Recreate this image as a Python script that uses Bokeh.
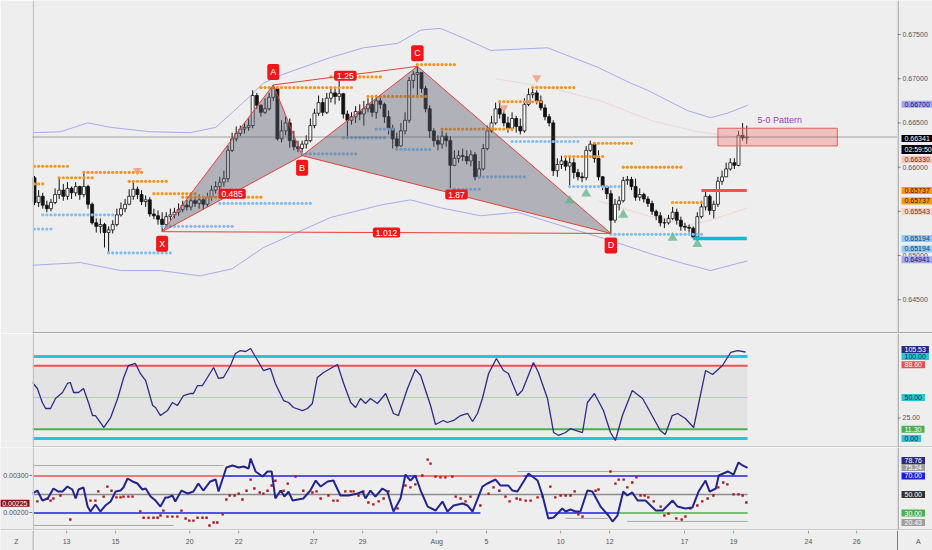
from bokeh.plotting import figure
from bokeh.models import Range1d, Label, Span
from bokeh.layouts import column, row
from bokeh.embed import file_html
from bokeh.resources import INLINE

# ---------------- data: 4h candles (index = bar number) ----------------
first_open = 0.6588
close = [
    0.6560, 0.6567, 0.6557, 0.6553, 0.6560, 0.6569, 0.6574, 0.6567, 0.6576, 0.6571,
    0.6578, 0.6569, 0.6578, 0.6558, 0.6537, 0.6533, 0.6535, 0.6526, 0.6529, 0.6535,
    0.6546, 0.6553, 0.6558, 0.6567, 0.6575, 0.6569, 0.6561, 0.6563, 0.6547, 0.6545,
    0.6541, 0.6535, 0.6544, 0.6546, 0.6549, 0.6552, 0.6557, 0.6555, 0.6562, 0.6559,
    0.6563, 0.6558, 0.6566, 0.6574, 0.6578, 0.6583, 0.6587, 0.6619, 0.6632, 0.6638,
    0.6643, 0.6645, 0.6647, 0.6681, 0.6670, 0.6662, 0.6666, 0.6679, 0.6689, 0.6632,
    0.6641, 0.6650, 0.6630, 0.6623, 0.6621, 0.6626, 0.6630, 0.6647, 0.6661, 0.6673,
    0.6662, 0.6678, 0.6684, 0.6680, 0.6683, 0.6660, 0.6653, 0.6657, 0.6663, 0.6660,
    0.6666, 0.6671, 0.6662, 0.6675, 0.6671, 0.6657, 0.6644, 0.6632, 0.6624, 0.6641,
    0.6653, 0.6698, 0.6705, 0.6707, 0.6689, 0.6666, 0.6641, 0.6630, 0.6626, 0.6635,
    0.6630, 0.6602, 0.6610, 0.6613, 0.6612, 0.6607, 0.6614, 0.6589, 0.6598, 0.6621,
    0.6641, 0.6650, 0.6666, 0.6660, 0.6650, 0.6644, 0.6655, 0.6646, 0.6641, 0.6671,
    0.6682, 0.6684, 0.6675, 0.6667, 0.6657, 0.6650, 0.6596, 0.6603, 0.6607, 0.6601,
    0.6605, 0.6594, 0.6589, 0.6588, 0.6619, 0.6626, 0.6610, 0.6589, 0.6578, 0.6570,
    0.6540, 0.6558, 0.6562, 0.6585, 0.6586, 0.6578, 0.6566, 0.6569, 0.6564, 0.6559,
    0.6550, 0.6545, 0.6537, 0.6537, 0.6542, 0.6549, 0.6540, 0.6533, 0.6532, 0.6531,
    0.6521, 0.6544, 0.6555, 0.6567, 0.6551, 0.6558, 0.6584, 0.6589, 0.6598, 0.6605,
    0.6602, 0.6636, 0.6633, 0.66341,
]
high = [
    0.6590, 0.6574, 0.6571, 0.6562, 0.6564, 0.6576, 0.6587, 0.6581, 0.6583, 0.6578,
    0.6583, 0.6579, 0.6594, 0.6580, 0.6560, 0.6542, 0.6542, 0.6537, 0.6533, 0.6540,
    0.6553, 0.6560, 0.6564, 0.6575, 0.6585, 0.6578, 0.6574, 0.6568, 0.6566, 0.6553,
    0.6551, 0.6549, 0.6549, 0.6553, 0.6554, 0.6559, 0.6562, 0.6563, 0.6568, 0.6567,
    0.6569, 0.6567, 0.6571, 0.6579, 0.6584, 0.6589, 0.6596, 0.6624, 0.6639, 0.6646,
    0.6647, 0.6650, 0.6655, 0.6687, 0.6684, 0.6671, 0.6678, 0.6684, 0.6693, 0.6691,
    0.6653, 0.6657, 0.6655, 0.6641, 0.6630, 0.6630, 0.6636, 0.6655, 0.6666, 0.6681,
    0.6678, 0.6684, 0.6691, 0.6689, 0.6698, 0.6684, 0.6664, 0.6662, 0.6669, 0.6671,
    0.6675, 0.6678, 0.6680, 0.6682, 0.6680, 0.6673, 0.6664, 0.6648, 0.6639, 0.6650,
    0.6662, 0.6702, 0.6709, 0.6714, 0.6707, 0.6692, 0.6670, 0.6644, 0.6636, 0.6641,
    0.6639, 0.6635, 0.6619, 0.6619, 0.6621, 0.6619, 0.6619, 0.6617, 0.6607, 0.6626,
    0.6647, 0.6658, 0.6673, 0.6675, 0.6664, 0.6657, 0.6662, 0.6658, 0.6655, 0.6678,
    0.6689, 0.6689, 0.6687, 0.6681, 0.6671, 0.6660, 0.6653, 0.6610, 0.6613, 0.6612,
    0.6612, 0.6610, 0.6598, 0.6594, 0.6624, 0.6630, 0.6628, 0.6619, 0.6590, 0.6579,
    0.6574, 0.6564, 0.6567, 0.6589, 0.6590, 0.6589, 0.6587, 0.6576, 0.6571, 0.6567,
    0.6562, 0.6552, 0.6549, 0.6542, 0.6546, 0.6555, 0.6553, 0.6544, 0.6537, 0.6535,
    0.6533, 0.6549, 0.6562, 0.6574, 0.6569, 0.6562, 0.6589, 0.6596, 0.6605, 0.6610,
    0.6610, 0.6641, 0.6650, 0.6647,
]
low = [
    0.6557, 0.6555, 0.6553, 0.6549, 0.6550, 0.6558, 0.6564, 0.6562, 0.6563, 0.6564,
    0.6567, 0.6563, 0.6566, 0.6553, 0.6535, 0.6526, 0.6525, 0.6509, 0.6504, 0.6525,
    0.6533, 0.6544, 0.6549, 0.6557, 0.6563, 0.6564, 0.6557, 0.6555, 0.6544, 0.6541,
    0.6535, 0.6527, 0.6533, 0.6540, 0.6542, 0.6545, 0.6549, 0.6551, 0.6551, 0.6555,
    0.6553, 0.6552, 0.6555, 0.6562, 0.6570, 0.6571, 0.6578, 0.6583, 0.6617, 0.6629,
    0.6635, 0.6638, 0.6641, 0.6644, 0.6666, 0.6657, 0.6660, 0.6664, 0.6675, 0.6630,
    0.6628, 0.6636, 0.6622, 0.6619, 0.6617, 0.6613, 0.6621, 0.6628, 0.6644, 0.6658,
    0.6658, 0.6660, 0.6673, 0.6671, 0.6675, 0.6655, 0.6635, 0.6648, 0.6650, 0.6653,
    0.6647, 0.6662, 0.6657, 0.6655, 0.6666, 0.6650, 0.6637, 0.6621, 0.6619, 0.6623,
    0.6637, 0.6650, 0.6689, 0.6680, 0.6684, 0.6662, 0.6633, 0.6623, 0.6619, 0.6621,
    0.6623, 0.6576, 0.6601, 0.6605, 0.6607, 0.6603, 0.6601, 0.6585, 0.6587, 0.6596,
    0.6619, 0.6639, 0.6648, 0.6655, 0.6646, 0.6639, 0.6641, 0.6639, 0.6637, 0.6639,
    0.6669, 0.6678, 0.6671, 0.6664, 0.6653, 0.6646, 0.6590, 0.6589, 0.6598, 0.6596,
    0.6579, 0.6587, 0.6585, 0.6583, 0.6585, 0.6617, 0.6605, 0.6585, 0.6574, 0.6564,
    0.6525, 0.6537, 0.6551, 0.6560, 0.6580, 0.6574, 0.6562, 0.6562, 0.6560, 0.6555,
    0.6546, 0.6540, 0.6533, 0.6531, 0.6535, 0.6540, 0.6535, 0.6528, 0.6528, 0.6526,
    0.6519, 0.6517, 0.6542, 0.6551, 0.6546, 0.6542, 0.6555, 0.6580, 0.6589, 0.6596,
    0.6598, 0.6601, 0.6630, 0.6626,
]

# x axis day labels (bar positions where the day label falls)
day_ticks = [7.8, 19.7, 37.7, 49.6, 67.8, 79.7, 97.7, 109.8, 127.8, 139.7, 157.9, 169.8, 188.0, 199.7]
day_labels = ["13", "15", "20", "22", "27", "29", "Aug", "5", "10", "12", "17", "19", "24", "26"]
edge_labels = [(-4.37, "Z"), (214.7, "A")]

# harmonic pattern pivots: bar, which extreme
pattern_names = ["X", "A", "B", "C", "D"]
pattern_bars = [31, 58, 65, 93, 140]
pattern_side = ["low", "high", "low", "high", "low"]
pattern_ratios = [("X", "B", "0.485"), ("A", "C", "1.25"), ("B", "D", "1.87"), ("X", "D", "1.012")]

# pivot resistance / support levels: (first bar, last bar, price)
resist_levels = [(0, 8, 0.6601), (6, 14, 0.6588), (12, 26, 0.6594), (23, 32, 0.6584), (29, 39, 0.6570),
                 (36, 55, 0.6566), (0, 2, 0.6581), (55, 77, 0.6690), (72, 84, 0.6702), (81, 95, 0.6680),
                 (93, 102, 0.6716), (99, 116, 0.6643), (113, 123, 0.6674), (121, 131, 0.6690),
                 (129, 138, 0.6612), (136, 145, 0.6627), (143, 157, 0.6600), (155, 162, 0.6560)]
support_levels = [(0, 4, 0.6530), (2, 19, 0.6546), (18, 33, 0.6503), (31, 48, 0.6533), (45, 67, 0.6559),
                  (65, 78, 0.6615), (75, 85, 0.6633), (83, 87, 0.6643), (88, 96, 0.6620), (102, 108, 0.6575),
                  (108, 119, 0.6589), (116, 132, 0.6629), (130, 142, 0.6578), (140, 162, 0.6524)]

buy_signals = [(130, 0.6562), (134, 0.6570), (143, 0.6546), (155, 0.6520), (161, 0.6513)]
sell_signals = [(25, 0.6596), (114, 0.6667), (122, 0.6701)]

prz_bars = (166, 195)
prz_prices = (0.6644, 0.6624)
prz_text = "5-0 Pattern"
level_red = (162, 173, 0.65737)
level_cyan = (160, 173, 0.65194)
last_price = 0.66341

upper_band = [(-0.5, 0.6639), (6.3, 0.6640), (12.9, 0.6650), (18.5, 0.6645), (28.2, 0.6640), (37.9, 0.6639),
              (44.0, 0.6645), (48.1, 0.6662), (52.5, 0.6681), (55.6, 0.6695), (59.8, 0.6704), (64.6, 0.6712),
              (71.9, 0.6724), (79.9, 0.6735), (88.2, 0.6740), (93.8, 0.6755), (98.6, 0.6757), (104.7, 0.6745),
              (110.8, 0.6732), (124.6, 0.6735), (136.8, 0.6713), (144.8, 0.6695), (148.9, 0.6687),
              (158.6, 0.6664), (164.2, 0.6656), (168.3, 0.6661), (173.2, 0.6670)]
lower_band = [(-0.5, 0.6489), (11.2, 0.6492), (20.9, 0.6483), (30.6, 0.6483), (40.3, 0.6477), (48.0, 0.6485),
              (55.6, 0.6509), (71.9, 0.6543), (84.0, 0.6557), (91.3, 0.6563), (98.6, 0.6554), (108.3, 0.6545),
              (117.3, 0.6549), (127.8, 0.6534), (139.9, 0.6517), (149.6, 0.6502), (157.6, 0.6491),
              (164.2, 0.6483), (173.2, 0.6494)]
slow_ma = [(112.0, 0.6700), (125.0, 0.6690), (137.5, 0.6675), (149.6, 0.6653), (161.0, 0.6640), (173.2, 0.6633)]
fast_ma = [(136.8, 0.6562), (148.9, 0.6545), (158.6, 0.6534), (164.2, 0.6540), (173.2, 0.6554)]

main_ticks = [0.675, 0.670, 0.665, 0.660, 0.655, 0.650, 0.645]
main_tag_values = [0.66700, 0.66341, 0.66341, 0.66330, 0.65737, 0.65737, 0.65543, 0.65194, 0.65194, 0.64941]
main_tag_texts = ["0.66700", "0.66341", "02:59:50", "0.66330", "0.65737", "0.65737", "0.65543",
                  "0.65194", "0.65194", "0.64941"]

# oscillator 1 (bar, value)
osc1 = [(-0.5, 68.3), (0.7, 61.0), (1.9, 43.9), (2.7, 36.6), (3.9, 36.6), (5.1, 48.8), (6.8, 56.1), (8.0, 67.1),
        (8.7, 68.3), (9.5, 56.1), (10.7, 56.1), (11.9, 61.0), (13.1, 43.9), (14.1, 28.0), (14.8, 28.0),
        (16.5, 15.9), (16.8, 13.4), (18.5, 25.6), (20.2, 48.8), (21.6, 73.2), (22.8, 89.0), (24.5, 91.5),
        (25.7, 79.3), (27.0, 70.7), (28.7, 40.2), (29.4, 37.8), (30.6, 28.0), (32.3, 34.1), (33.5, 43.9),
        (34.7, 40.2), (36.2, 52.4), (37.9, 54.9), (38.6, 54.9), (39.6, 64.6), (40.8, 64.6), (42.0, 74.4),
        (43.5, 86.6), (44.7, 73.2), (45.9, 74.4), (47.6, 89.0), (48.8, 103.7), (50.0, 107.3), (51.3, 106.1),
        (52.5, 109.8), (54.2, 95.1), (55.6, 82.9), (57.3, 85.4), (58.5, 67.1), (60.5, 46.3), (61.7, 43.9),
        (62.9, 37.8), (65.1, 34.1), (66.3, 36.6), (67.5, 42.7), (68.7, 74.4), (70.2, 80.5), (73.6, 90.2),
        (75.1, 67.1), (76.8, 43.9), (78.0, 37.8), (79.2, 48.8), (80.4, 42.7), (81.6, 48.8), (83.3, 42.7),
        (85.3, 54.9), (87.2, 30.5), (88.4, 28.0), (90.6, 61.0), (92.5, 84.1), (93.8, 76.8), (96.2, 40.2),
        (97.4, 17.1), (99.3, 22.0), (100.3, 19.5), (101.8, 22.0), (103.5, 28.0), (105.2, 30.5), (106.4, 20.7),
        (107.6, 30.5), (108.8, 48.8), (110.3, 79.3), (112.2, 97.6), (113.9, 82.9), (115.1, 79.3),
        (117.3, 52.4), (118.5, 58.5), (121.2, 92.7), (122.4, 80.5), (124.6, 48.8), (126.1, 7.3), (127.3, 3.7),
        (129.0, 7.3), (130.2, 12.2), (131.4, 9.8), (133.1, 7.3), (134.3, 43.9), (136.0, 54.9), (138.2, 34.1),
        (139.9, 7.3), (141.1, -2.4), (142.8, 28.0), (145.2, 58.5), (147.7, 48.8), (149.6, 31.7), (152.0, 9.8),
        (153.2, 4.9), (154.9, 28.0), (156.2, 30.5), (158.1, 24.4), (160.1, 13.4), (163.0, 82.9), (164.7, 78.0),
        (167.1, 89.0), (169.1, 104.9), (170.8, 107.3), (172.7, 105.5)]
osc1_levels = [100.0, 88.6, 50.0, 11.3, 0.0]
osc1_ticks = [25.0]
osc1_tag_values = [105.53, 100.00, 88.60, 50.00, 11.30, 0.00]

# oscillator 2 (bar, value)
osc2 = [(-0.5, 51.1), (0.7, 54.3), (1.9, 43.5), (3.2, 45.7), (4.6, 56.5), (5.8, 53.2), (6.8, 53.2), (8.0, 58.6),
        (9.2, 55.4), (10.0, 45.7), (10.7, 55.4), (11.9, 57.6), (12.9, 37.0), (13.6, 31.6), (14.8, 39.2),
        (16.0, 31.6), (17.2, 38.1), (18.5, 42.4), (19.7, 53.2), (20.9, 54.3), (21.6, 57.6), (22.6, 67.3),
        (23.8, 64.1), (25.0, 61.9), (26.2, 55.4), (27.0, 56.5), (28.2, 47.8), (29.4, 43.5), (30.6, 37.0),
        (31.8, 46.8), (32.5, 46.8), (33.5, 48.9), (34.2, 42.4), (35.7, 54.3), (37.2, 51.1), (38.6, 53.2),
        (39.8, 61.9), (41.0, 54.3), (42.7, 64.1), (44.0, 66.2), (44.7, 53.2), (46.6, 79.2), (48.1, 81.4),
        (49.6, 79.2), (50.8, 80.3), (52.0, 78.1), (52.5, 88.9), (53.7, 74.9), (55.4, 69.5), (56.6, 74.9),
        (57.6, 74.9), (58.5, 45.7), (59.8, 54.3), (60.7, 47.8), (61.7, 53.2), (62.7, 43.5), (65.3, 45.7),
        (67.0, 54.3), (68.3, 65.1), (69.5, 58.6), (71.2, 64.1), (72.6, 65.1), (74.3, 48.9), (76.3, 48.9),
        (78.5, 51.1), (79.7, 53.2), (80.4, 45.7), (81.6, 54.3), (82.8, 47.8), (84.5, 56.5), (85.7, 53.2),
        (87.2, 31.6), (88.9, 45.7), (90.1, 71.6), (91.3, 65.1), (92.5, 70.5), (93.8, 54.3), (95.5, 37.0),
        (97.4, 32.7), (99.1, 42.4), (100.3, 31.6), (101.8, 38.1), (104.0, 40.3), (105.2, 38.1), (106.4, 31.6),
        (108.8, 58.6), (110.0, 61.9), (112.0, 66.2), (113.2, 59.7), (115.1, 59.7), (116.1, 54.3),
        (117.3, 53.2), (120.0, 72.7), (122.2, 65.1), (123.4, 48.9), (124.8, 24.1), (126.1, 25.1),
        (128.2, 34.9), (129.0, 31.6), (130.2, 33.8), (131.4, 31.6), (132.6, 31.6), (134.3, 54.3),
        (135.5, 53.2), (137.5, 37.0), (139.4, 27.3), (140.4, 20.8), (141.6, 27.3), (143.0, 53.2),
        (144.0, 48.9), (145.2, 52.2), (146.5, 43.5), (148.4, 43.5), (150.9, 32.7), (152.6, 32.7),
        (155.0, 43.5), (156.2, 37.0), (158.1, 34.9), (159.8, 35.9), (161.3, 53.2), (163.0, 65.1),
        (164.0, 53.2), (165.5, 56.5), (166.2, 70.5), (168.4, 74.9), (169.8, 71.6), (171.0, 84.6),
        (172.0, 81.4), (173.2, 78.8)]
# secondary (left-scale) dots (bar, value)
osc2_dots = [(0.7, 0.00230), (3.2, 0.00238), (3.9, 0.00232), (4.6, 0.00238), (6.3, 0.00246), (8.7, 0.00181),
             (13.6, 0.00232), (14.8, 0.00232), (15.5, 0.00257), (16.8, 0.00243), (17.7, 0.00270),
             (18.7, 0.00259), (19.9, 0.00241), (20.9, 0.00241), (21.6, 0.00243), (22.8, 0.00243),
             (23.8, 0.00243), (25.7, 0.00203), (26.5, 0.00186), (27.7, 0.00186), (28.9, 0.00186),
             (29.9, 0.00186), (30.6, 0.00192), (31.3, 0.00205), (32.3, 0.00189), (33.5, 0.00189),
             (34.7, 0.00189), (35.7, 0.00205), (36.7, 0.00184), (37.6, 0.00178), (38.6, 0.00178),
             (39.6, 0.00186), (40.8, 0.00186), (41.8, 0.00186), (42.5, 0.00165), (43.5, 0.00173),
             (44.4, 0.00173), (45.7, 0.00195), (46.6, 0.00235), (47.4, 0.00246), (48.6, 0.00246),
             (49.6, 0.00251), (50.5, 0.00235), (51.5, 0.00259), (52.5, 0.00289), (53.4, 0.00265),
             (54.7, 0.00254), (55.6, 0.00251), (56.6, 0.00259), (57.6, 0.00273), (58.5, 0.00286),
             (59.8, 0.00257), (60.5, 0.00259), (61.5, 0.00278), (63.4, 0.00297), (65.3, 0.00259),
             (67.5, 0.00254), (68.5, 0.00257), (69.5, 0.00238), (71.4, 0.00246), (72.6, 0.00232),
             (73.6, 0.00232), (75.5, 0.00257), (76.8, 0.00257), (77.5, 0.00257), (78.7, 0.00246),
             (79.9, 0.00257), (81.1, 0.00227), (82.3, 0.00222), (83.6, 0.00230), (84.8, 0.00238),
             (86.0, 0.00257), (88.2, 0.00211), (90.1, 0.00273), (91.3, 0.00268), (92.5, 0.00276),
             (94.2, 0.00300), (95.5, 0.00343), (96.2, 0.00332), (97.4, 0.00297), (98.6, 0.00295),
             (99.8, 0.00295), (101.5, 0.00297), (102.3, 0.00243), (103.5, 0.00238), (104.7, 0.00230),
             (105.9, 0.00243), (108.3, 0.00219), (110.3, 0.00251), (111.5, 0.00268), (112.9, 0.00259),
             (114.4, 0.00243), (115.4, 0.00230), (117.1, 0.00238), (118.0, 0.00235), (119.3, 0.00232),
             (120.5, 0.00232), (122.2, 0.00241), (123.4, 0.00243), (125.3, 0.00270), (126.5, 0.00241),
             (127.8, 0.00246), (129.0, 0.00246), (130.2, 0.00246), (131.2, 0.00257), (132.1, 0.00195),
             (133.1, 0.00189), (136.3, 0.00259), (137.0, 0.00262), (139.9, 0.00311), (141.1, 0.00278),
             (141.9, 0.00289), (143.1, 0.00289), (144.0, 0.00268), (145.2, 0.00281), (146.2, 0.00295),
             (147.2, 0.00246), (148.2, 0.00246), (149.1, 0.00241), (150.4, 0.00230), (152.1, 0.00216),
             (153.0, 0.00192), (154.0, 0.00197), (155.9, 0.00184), (157.2, 0.00181), (158.1, 0.00189),
             (159.3, 0.00211), (161.0, 0.00219), (162.2, 0.00230), (163.5, 0.00238), (164.9, 0.00246),
             (166.1, 0.00268), (167.3, 0.00281), (168.3, 0.00276), (169.8, 0.00249), (171.0, 0.00249),
             (172.0, 0.00246), (172.9, 0.00227)]
dots_levels = [(-0.5, 45.9, 0.00327), (-0.5, 33.8, 0.00165), (117.3, 166.6, 0.00311), (129.0, 139.2, 0.00184),
               (144.0, 173.2, 0.00176)]
osc2_upper = [(-0.5, 45.9, "red"), (45.9, 93.0, "blue"), (93.0, 118.8, "red"), (118.8, 173.2, "blue")]
osc2_lower = [(-0.5, 108.3, "blue"), (124.8, 141.6, "blue"), (141.6, 173.2, "green")]
osc2_levels = [70.0, 50.0, 30.0]
osc2_tag_values = [78.76, 75.24, 70.00, 50.00, 30.00, 20.43]
left_ticks = [0.00300, 0.00200]
left_tag_value = 0.00225

# ---------------- layout / style ----------------
FONT = "Liberation Sans"
BG = "#eeeeee"
SEP = "#a6a6a6"
XR = Range1d(-0.486, 209.62)           # plot frame: window x 32 .. 897
XR_FULL = Range1d(-8.258, 218.12)      # full window width 0 .. 932 (time strip)
LAST = len(close) - 1 + 0.2
Y1 = Range1d(0.64118, 0.67885)
Y2 = Range1d(-10.98, 128.05)
Y3 = Range1d(11.1, 100.8)
Y3L = Range1d(0.001514, 0.003757)


def base_fig(w, h, xr, yr, left=0):
    p = figure(width=w, height=h, x_range=xr, y_range=yr, output_backend="svg", toolbar_location=None,
               x_axis_location=None, y_axis_location=None, min_border_left=left, min_border_right=0,
               min_border_top=0, min_border_bottom=0)
    p.background_fill_color = BG
    p.border_fill_color = BG
    p.outline_line_color = None
    p.grid.visible = False
    return p


def tag(p, x, y, text, bg=None, fg="#4a4a4a", dy=0, align="left", size="7px", radius=0,
        pad=(3, 1), bold=False):
    kw = dict(x=x, y=y, text=text, text_font=FONT, text_font_size=size, text_color=fg,
              text_align=align, text_baseline="middle", y_offset=dy,
              text_font_style="bold" if bold else "normal")
    if bg is not None:
        kw.update(background_fill_color=bg, background_fill_alpha=1.0,
                  padding=dict(left=pad[0], right=pad[0], top=pad[1], bottom=pad[1]),
                  border_radius=radius)
    p.add_layout(Label(**kw))


def hline(p, y, color=SEP, width=1.5):
    p.add_layout(Span(location=y, dimension="width", line_color=color, line_width=width))


def vline(p, x, color, width=1.5):
    p.add_layout(Span(location=x, dimension="height", line_color=color, line_width=width))


def price_scale(h, yr):
    s = base_fig(35, h, Range1d(0, 35), yr)
    vline(s, 0.5, "#7d7d7d", 1)
    return s


# ================= main price panel =================
p1 = base_fig(897, 333, XR, Y1, left=32)
vline(p1, -0.3, "#c4c4c4")
hline(p1, Y1.start + 0.00008)

n = len(close)
opens = [first_open] + close[:-1]
bars = list(range(n))
up = [i for i in bars if close[i] >= opens[i]]
dn = [i for i in bars if close[i] < opens[i]]

p1.line([a for a, b in upper_band], [b for a, b in upper_band], line_color="#a6a9f0", line_width=1)
p1.line([a for a, b in lower_band], [b for a, b in lower_band], line_color="#a6a9f0", line_width=1)
p1.line([a for a, b in slow_ma], [b for a, b in slow_ma], line_color="#f2b8a6", line_alpha=0.45, line_width=1)
p1.line([a for a, b in fast_ma], [b for a, b in fast_ma], line_color="#f2b8a6", line_alpha=0.45, line_width=1)

p1.add_layout(Span(location=last_price, dimension="width", line_color="#555555", line_dash="1 1",
                   line_width=1))

p1.segment(x0=bars, y0=low, x1=bars, y1=high, line_color="#111111", line_width=1)
p1.vbar(x=up, width=0.72, top=[close[i] for i in up], bottom=[opens[i] for i in up],
        fill_color="#ffffff", line_color="#111111", line_width=0.8)
p1.vbar(x=dn, width=0.72, top=[opens[i] for i in dn], bottom=[close[i] for i in dn],
        fill_color="#111111", line_color="#111111", line_width=0.8)

for a, b, lvl in resist_levels:
    xs = list(range(a, b + 1))
    p1.scatter(xs, [lvl] * len(xs), marker="circle", size=3.2, fill_color="#f7941d", line_color=None)
for a, b, lvl in support_levels:
    xs = list(range(a, b + 1))
    p1.scatter(xs, [lvl] * len(xs), marker="circle", size=3.2, fill_color="#86bdf0", line_color=None)

pts = {}
for nm, b, side in zip(pattern_names, pattern_bars, pattern_side):
    pts[nm] = (b, low[b] if side == "low" else high[b])
for tri in (("X", "A", "B"), ("B", "C", "D")):
    p1.patch([pts[k][0] for k in tri], [pts[k][1] for k in tri], fill_color="#5d6070", fill_alpha=0.42,
             line_color=None)
legs = [("X", "A"), ("A", "B"), ("B", "C"), ("C", "D"), ("X", "B"), ("A", "C"), ("B", "D"), ("X", "D")]
p1.multi_line([[pts[a][0], pts[b][0]] for a, b in legs], [[pts[a][1], pts[b][1]] for a, b in legs],
              line_color="#e8403a", line_width=1)
for a, b, txt in pattern_ratios:
    tag(p1, (pts[a][0] + pts[b][0]) / 2, (pts[a][1] + pts[b][1]) / 2, txt, bg="#f0171b", fg="#ffffff",
        align="center", size="8.5px", radius=2, pad=(3, 2))
for nm, side in zip(pattern_names, pattern_side):
    tag(p1, pts[nm][0], pts[nm][1], nm, bg="#f0171b", fg="#ffffff", align="center", size="9px",
        dy=-12 if side == "low" else 13, radius=2, pad=(3, 3))

p1.scatter([a for a, b in buy_signals], [b for a, b in buy_signals], marker="triangle", size=10,
           fill_color="#5fb48a", fill_alpha=0.75, line_color=None)
p1.scatter([a for a, b in sell_signals], [b for a, b in sell_signals], marker="inverted_triangle", size=9,
           fill_color="#f49a78", fill_alpha=0.8, line_color=None)

p1.quad(left=prz_bars[0], right=prz_bars[1], top=prz_prices[0], bottom=prz_prices[1], fill_color="#f08a8a",
        fill_alpha=0.45, line_color="#e06060", line_width=1)
tag(p1, (prz_bars[0] + prz_bars[1]) / 2 + 0.5, prz_prices[0], prz_text, fg="#a13bc0", align="center",
    size="9px", dy=8)
p1.segment(x0=[level_red[0]], y0=[level_red[2]], x1=[level_red[1]], y1=[level_red[2]], line_color="#f0524f",
           line_width=3)
p1.segment(x0=[level_cyan[0]], y0=[level_cyan[2]], x1=[level_cyan[1]], y1=[level_cyan[2]],
           line_color="#00bcd4", line_width=3.5)

s1 = price_scale(333, Y1)
hline(s1, Y1.start + 0.00008)
for t in main_ticks:
    s1.segment(x0=[0], y0=[t], x1=[3], y1=[t], line_color="#777777", line_width=1)
    tag(s1, 5, t, "%.5f" % t, fg="#555555")
main_tag_style = [("#a3a6f4", "#14145a", 1), ("#000000", "#ffffff", -1.5), ("#000000", "#ffffff", -12.5),
                  ("#f9c6b3", "#3a3a3a", -21.5), ("#ff9800", "#1a1a1a", 0), ("#ff9800", "#1a1a1a", -10.5),
                  ("#fbd3c3", "#444444", -4), ("#90caf9", "#143c6e", 0), ("#90caf9", "#143c6e", -10.5),
                  ("#a3a6f4", "#14145a", 1)]
for v, txt, (bg, fg, dy) in zip(main_tag_values, main_tag_texts, main_tag_style):
    tag(s1, 4, v, txt, bg=bg, fg=fg, dy=dy)

# ================= oscillator 1 =================
p2 = base_fig(897, 114, XR, Y2, left=32)
vline(p2, -0.3, "#c4c4c4")
hline(p2, Y2.start + 0.25)
p2.quad(left=[XR.start], right=[LAST], top=[osc1_levels[1]], bottom=[osc1_levels[3]], fill_color="#000000",
        fill_alpha=0.045, line_color=None)
osc1_style = [("#26c6da", 3), ("#ef5350", 2), ("#80deea", 1), ("#4caf50", 2), ("#26c6da", 3)]
for lvl, (col, lw) in zip(osc1_levels, osc1_style):
    p2.segment(x0=[XR.start], y0=[lvl], x1=[LAST], y1=[lvl], line_color=col, line_width=lw)
p2.line([a for a, b in osc1], [b for a, b in osc1], line_color="#2d2b8a", line_width=1.3)

s2 = price_scale(114, Y2)
hline(s2, Y2.start + 0.25)
for t in osc1_ticks:
    s2.segment(x0=[0], y0=[t], x1=[3], y1=[t], line_color="#777777", line_width=1)
    tag(s2, 5, t, "%.2f" % t, fg="#555555")
osc1_tag_style = [("#2b2a84", "#ffffff", 2.5), ("#26c6da", "#0d2b40", 0), ("#f44c4c", "#ffffff", 1),
                  ("#26c6da", "#0d2b40", 0), ("#4caf50", "#ffffff", 0), ("#26c6da", "#0d2b40", 0)]
for v, (bg, fg, dy) in zip(osc1_tag_values, osc1_tag_style):
    tag(s2, 4, v, "%.2f" % v, bg=bg, fg=fg, dy=dy)

# ================= oscillator 2 =================
p3 = base_fig(865, 83, XR, Y3)
p3.extra_y_ranges = {"atr": Y3L}
vline(p3, -0.3, "#c4c4c4")
hline(p3, Y3.start + 0.3)
for a, b, v in dots_levels:
    p3.segment(x0=[a], y0=[v], x1=[b], y1=[v], line_color="#a8a8a8", line_width=1, y_range_name="atr")
seg_col = {"red": "#f0524f", "blue": "#1f1fe0", "green": "#4caf50"}
p3.segment(x0=[XR.start], y0=[osc2_levels[1]], x1=[LAST], y1=[osc2_levels[1]], line_color="#8c8c8c",
           line_width=1.5)
for a, b, c in osc2_upper:
    p3.segment(x0=[a], y0=[osc2_levels[0]], x1=[b], y1=[osc2_levels[0]], line_color=seg_col[c], line_width=1.5)
for a, b, c in osc2_lower:
    p3.segment(x0=[a], y0=[osc2_levels[2]], x1=[b], y1=[osc2_levels[2]], line_color=seg_col[c], line_width=1.5)
p3.scatter([a for a, b in osc2_dots], [b for a, b in osc2_dots], marker="square", size=2.4,
           fill_color="#b0141b", line_color=None, y_range_name="atr")
p3.line([a for a, b in osc2], [b for a, b in osc2], line_color="#24248f", line_width=2)

s3 = price_scale(83, Y3)
hline(s3, Y3.start + 0.3)
osc2_tag_style = [("#2b2a84", "#ffffff", 7.4), ("#9e9e9e", "#ffffff", 3.7), ("#1c1cf0", "#ffffff", 0),
                  ("#333333", "#ffffff", 0), ("#4caf50", "#ffffff", 0), ("#9e9e9e", "#ffffff", -0.7)]
for v, (bg, fg, dy) in zip(osc2_tag_values, osc2_tag_style):
    tag(s3, 4, v, "%.2f" % v, bg=bg, fg=fg, dy=dy)

l3 = base_fig(32, 83, Range1d(0, 32), Y3L)
for t in left_ticks:
    l3.segment(x0=[29], y0=[t], x1=[32], y1=[t], line_color="#777777", line_width=1)
    tag(l3, 28, t, "%.5f" % t, fg="#555555", align="right", size="7px")
tag(l3, 29, left_tag_value, "%.5f" % left_tag_value, bg="#8b1111", fg="#ffffff", align="right",
    size="7px", pad=(2, 1))
hline(l3, Y3L.start + 0.000008)

# ================= time strip =================
ts = base_fig(932, 20, XR_FULL, Range1d(0, 20))
vline(ts, -0.3, "#c4c4c4")
vline(ts, 209.62, "#7d7d7d", 1)
for t, lab in zip(day_ticks, day_labels):
    ts.segment(x0=[t], y0=[20], x1=[t], y1=[17], line_color="#999999", line_width=1)
    tag(ts, t, 9.5, lab, fg="#555555", align="center", size="7px")
for t, lab in edge_labels:
    tag(ts, t, 9.5, lab, fg="#555555", align="center", size="7px")

layout = column(row(p1, s1, spacing=0), row(p2, s2, spacing=0), row(l3, p3, s3, spacing=0), ts, spacing=0)
open("out.html", "w").write(file_html(layout, INLINE))
